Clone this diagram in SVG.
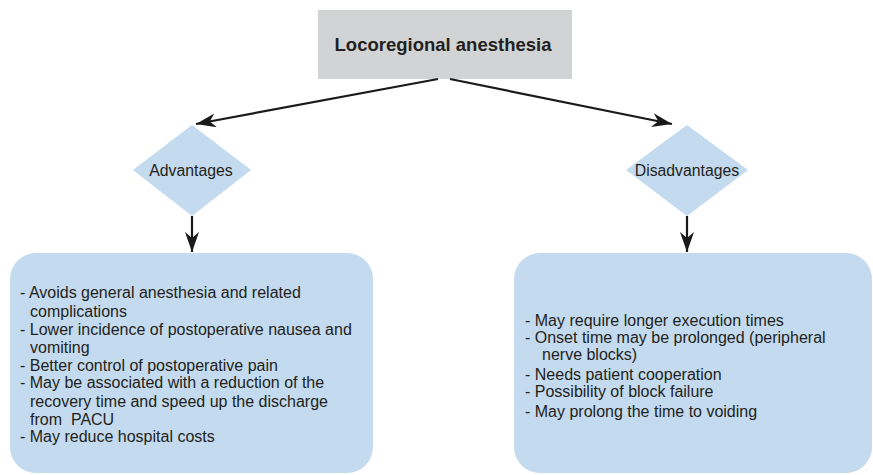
<svg xmlns="http://www.w3.org/2000/svg" width="873" height="475" viewBox="0 0 873 475">
<defs>
<marker id="ahl" viewBox="0 0 20 14" refX="20" refY="7" markerWidth="20" markerHeight="14" markerUnits="userSpaceOnUse" orient="auto">
<path d="M0,0 L20,7 L0,14 L6,7 Z" fill="#1a1a1a"/>
</marker>
<style>
.t{font-family:"Liberation Sans",Arial,sans-serif;fill:#231f20;}
.item{font-size:16px;}
.lbl{font-size:15.8px;}
.blue{fill:#c3daef;}
.conn{stroke:#1a1a1a;stroke-width:2.2;fill:none;}
</style>
</defs>
<g id="top">
<rect x="318" y="10" width="254" height="69" fill="#d1d3d4"/>
<text class="t" x="443" y="51" text-anchor="middle" font-size="18.5" font-weight="bold">Locoregional anesthesia</text>
</g>
<g id="advantages">
<polygon class="blue" points="192,125 251,170 192,216 133,170"/>
<text class="t lbl" x="191" y="176" text-anchor="middle">Advantages</text>
</g>
<g id="disadvantages">
<polygon class="blue" points="687,125 748,170 687,216 626,170"/>
<text class="t lbl" x="687" y="176" text-anchor="middle">Disadvantages</text>
</g>
<g id="adv-list">
<rect class="blue" x="10" y="253" width="363" height="220" rx="26" ry="26"/>
<text class="t item">
<tspan x="20" y="298">- Avoids general anesthesia and related</tspan>
<tspan x="30" y="317">complications</tspan>
<tspan x="20" y="335">- Lower incidence of postoperative nausea and</tspan>
<tspan x="30" y="353">vomiting</tspan>
<tspan x="20" y="371">- Better control of postoperative pain</tspan>
<tspan x="20" y="388">- May be associated with a reduction of the</tspan>
<tspan x="30" y="407">recovery time and speed up the discharge</tspan>
<tspan x="30" y="425">from&#160; PACU</tspan>
<tspan x="20" y="442">- May reduce hospital costs</tspan>
</text>
</g>
<g id="dis-list">
<rect class="blue" x="514" y="253" width="358" height="220" rx="26" ry="26"/>
<text class="t item">
<tspan x="525" y="326">- May require longer execution times</tspan>
<tspan x="525" y="343">- Onset time may be prolonged (peripheral</tspan>
<tspan x="542" y="360">nerve blocks)</tspan>
<tspan x="525" y="380">- Needs patient cooperation</tspan>
<tspan x="525" y="397">- Possibility of block failure</tspan>
<tspan x="525" y="417">- May prolong the time to voiding</tspan>
</text>
</g>
<g id="connectors">
<line class="conn" x1="438" y1="79" x2="196" y2="124" marker-end="url(#ahl)"/>
<line class="conn" x1="450" y1="79" x2="672" y2="124" marker-end="url(#ahl)"/>
<line class="conn" x1="192" y1="216" x2="192" y2="252" marker-end="url(#ahl)"/>
<line class="conn" x1="687" y1="216" x2="687" y2="252" marker-end="url(#ahl)"/>
</g>
</svg>
